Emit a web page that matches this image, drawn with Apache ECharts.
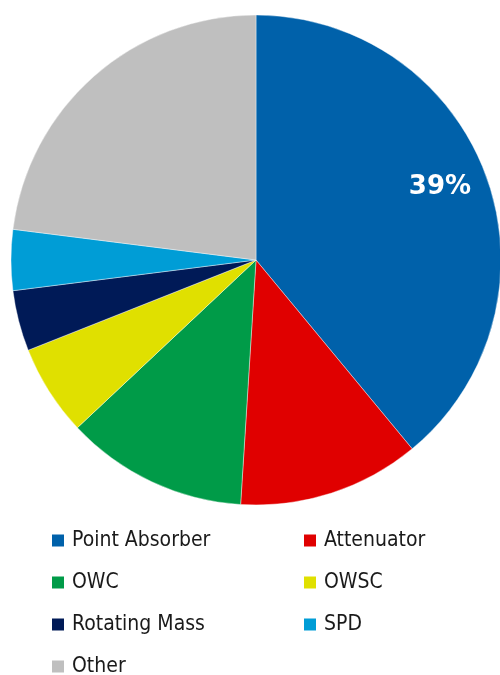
<!DOCTYPE html>
<html>
<head>
<meta charset="utf-8">
<script src="https://cdn.jsdelivr.net/npm/echarts@6/dist/echarts.min.js"></script>
<style>html,body{margin:0;padding:0;background:#fff;overflow:hidden}#c{width:500px;height:675px}</style>
</head>
<body>
<div id="c"></div>
<script>
const categories = ['Point Absorber', 'Attenuator', 'OWC', 'OWSC', 'Rotating Mass', 'SPD', 'Other'];
const values = [39, 12, 12, 6, 4, 4, 23];
const colors = ['#0061AA', '#E00000', '#009B48', '#E0E000', '#001A57', '#009DD6', '#BFBFBF'];
const labelled = ['Point Absorber'];
const leftLegend = ['Point Absorber', 'OWC', 'Rotating Mass', 'Other'];
const rightLegend = ['Attenuator', 'OWSC', 'SPD'];

const FONT = '"DejaVu Sans Condensed", "DejaVu Sans", sans-serif';
const data = categories.map((n, i) => ({ name: n, value: values[i], itemStyle: { color: colors[i] } }));
const labelData = categories.map((n, i) => ({
  name: n, value: values[i],
  label: { show: labelled.includes(n) }
}));
const total = values.reduce((a, b) => a + b, 0);

function legendAt(name, left, row) {
  return {
    orient: 'horizontal', icon: 'rect', itemWidth: 14, itemHeight: 14,
    padding: 0, left: left, top: 530 + 42 * row, data: [name],
    textStyle: { fontFamily: FONT, fontSize: 21, color: '#1a1a1a', padding: [0, 0, 0, 2] },
    selectedMode: false
  };
}
const legends = leftLegend.map((n, i) => legendAt(n, 50, i))
  .concat(rightLegend.map((n, i) => legendAt(n, 302, i)));

const chart = echarts.init(document.getElementById('c'), null, { renderer: 'canvas' });
chart.setOption({
  animation: false,
  legend: legends,
  series: [
    {
      type: 'pie', center: [256, 260], radius: 245, startAngle: 90, clockwise: true,
      data: data, label: { show: false }, labelLine: { show: false },
      itemStyle: { borderColor: '#fff', borderWidth: 0.4 }, silent: true
    },
    {
      type: 'pie', center: [256, 260], radius: [145, 240], startAngle: 90, clockwise: true,
      data: labelData, silent: true, legendHoverLink: false,
      itemStyle: { color: 'rgba(0,0,0,0)' },
      labelLine: { show: false },
      label: {
        position: 'inside', color: '#fff', fontFamily: '"DejaVu Sans", sans-serif', fontWeight: 'bold', fontSize: 26,
        offset: [0, -7],
        formatter: p => Math.round(p.value / total * 100) + '%'
      }
    }
  ]
});
</script>
</body>
</html>
